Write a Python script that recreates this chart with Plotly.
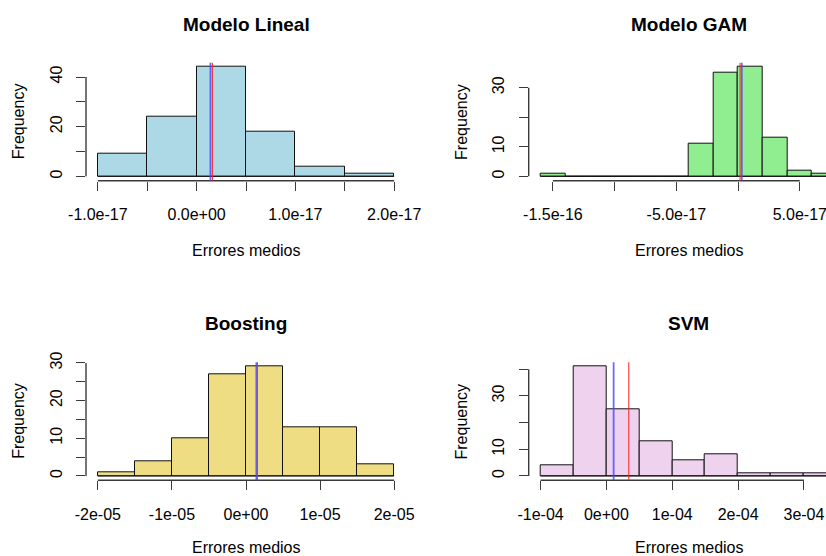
import plotly.graph_objects as go

# ---------------- data ----------------
titles = ["Modelo Lineal", "Modelo GAM", "Boosting", "SVM"]
fill_colors = ["#ADD8E6", "#90EE90", "#EEDD82", "#EED2EE"]

lineal_start, lineal_step = -1.0e-17, 0.5e-17
lineal_counts = [9, 24, 44, 18, 4, 1]
gam_start, gam_step = -1.6e-16, 2.0e-17
gam_counts = [1, 0, 0, 0, 0, 0, 11, 35, 37, 13, 2, 1]
boost_start, boost_step = -2.0e-5, 0.5e-5
boost_counts = [1, 4, 10, 27, 29, 13, 13, 3]
svm_start, svm_step = -1.0e-4, 0.5e-4
svm_counts = [4, 41, 25, 13, 6, 8, 1, 1, 1]

# vertical reference lines (blue, red)
blue_lines = [0.14e-17, 0.30e-17, 0.14e-5, 0.11e-4]
red_lines = [0.16e-17, 0.16e-17, 0.155e-5, 0.34e-4]

# axis ticks / labels
lineal_xticks = [-1.0e-17, -0.5e-17, 0.0, 0.5e-17, 1.0e-17, 1.5e-17, 2.0e-17]
lineal_xlabels = ["-1.0e-17", "", "0.0e+00", "", "1.0e-17", "", "2.0e-17"]
gam_xticks = [-1.5e-16, -1.0e-16, -5.0e-17, 0.0, 5.0e-17]
gam_xlabels = ["-1.5e-16", "", "-5.0e-17", "", "5.0e-17"]
boost_xticks = [-2e-5, -1e-5, 0.0, 1e-5, 2e-5]
boost_xlabels = ["-2e-05", "-1e-05", "0e+00", "1e-05", "2e-05"]
svm_xticks = [-1e-4, 0.0, 1e-4, 2e-4, 3e-4]
svm_xlabels = ["-1e-04", "0e+00", "1e-04", "2e-04", "3e-04"]

lineal_yticks = [0, 10, 20, 30, 40]
lineal_ylabels = ["0", "", "20", "", "40"]
gam_yticks = [0, 10, 20, 30]
gam_ylabels = ["0", "10", "", "30"]
boost_yticks = [0, 5, 10, 15, 20, 25, 30]
boost_ylabels = ["0", "", "10", "", "20", "", "30"]
svm_yticks = [0, 10, 20, 30, 40]
svm_ylabels = ["0", "10", "", "30", ""]

xlab = "Errores medios"
ylab = "Frequency"

panels = [
    (lineal_start, lineal_step, lineal_counts, lineal_xticks, lineal_xlabels, lineal_yticks, lineal_ylabels),
    (gam_start, gam_step, gam_counts, gam_xticks, gam_xlabels, gam_yticks, gam_ylabels),
    (boost_start, boost_step, boost_counts, boost_xticks, boost_xlabels, boost_yticks, boost_ylabels),
    (svm_start, svm_step, svm_counts, svm_xticks, svm_xlabels, svm_yticks, svm_ylabels),
]

# ---------------- layout geometry (pixels) ----------------
W, H = 826, 556
col_left = [86.0, 528.7]
plot_w = 320.0
row_top = [62.7, 362.3]
plot_h = 118.0

FONT = "Liberation Sans, Arial, sans-serif"
AXC = "#3a3a3a"
FS = 16

fig = go.Figure()
shapes = []
annotations = []

for i, (start, step, counts, xt, xl, yt, yl) in enumerate(panels):
    r, c = divmod(i, 2)
    n = len(counts)
    breaks = [start + k * step for k in range(n + 1)]
    centers = [start + (k + 0.5) * step for k in range(n)]
    xa = "x" if i == 0 else f"x{i+1}"
    ya = "y" if i == 0 else f"y{i+1}"
    xkey = "xaxis" if i == 0 else f"xaxis{i+1}"
    ykey = "yaxis" if i == 0 else f"yaxis{i+1}"

    # ranges like R (4% extension)
    x0, x1 = breaks[0], breaks[-1]
    ext = 0.04 * (x1 - x0)
    xr0, xr1 = x0 - ext, x1 + ext
    left = col_left[c]
    right_full = left + plot_w
    right_vis = min(right_full, W)
    xr1_vis = xr0 + (xr1 - xr0) * (right_vis - left) / plot_w
    ymax = max(counts)
    yr = [-0.04 * ymax, 1.04 * ymax]

    top = row_top[r]
    bot = top + plot_h

    fig.add_trace(go.Bar(
        x=centers, y=counts, width=[step] * n,
        marker=dict(color=fill_colors[i], line=dict(color="#111111", width=1)),
        xaxis=xa, yaxis=ya, showlegend=False, hoverinfo="skip",
    ))
    # baseline for empty bins (R draws zero-height rectangles as a line)
    fig.add_trace(go.Scatter(
        x=[breaks[0], breaks[-1]], y=[0, 0], mode="lines",
        line=dict(color="#111111", width=1),
        xaxis=xa, yaxis=ya, showlegend=False, hoverinfo="skip",
    ))

    fig.layout[xkey] = dict(
        domain=[left / W, right_vis / W], range=[xr0, xr1_vis], anchor=ya,
        automargin=False, ticklabeloverflow="allow",
        tickmode="array", tickvals=xt, ticktext=xl, ticks="outside",
        ticklen=9, tickwidth=1.4, tickcolor=AXC, showgrid=False, zeroline=False,
        showline=False, ticklabelstandoff=10,
        tickfont=dict(family=FONT, size=FS, color="black"),
    )
    fig.layout[ykey] = dict(
        domain=[1 - bot / H, 1 - top / H], range=yr, anchor=xa,
        automargin=False, ticklabeloverflow="allow",
        tickmode="array", tickvals=yt, ticktext=yl, ticks="outside",
        ticklen=9, tickwidth=1.4, tickcolor=AXC, showgrid=False, zeroline=False,
        showline=False, tickangle=-90, ticklabelstandoff=8,
        tickfont=dict(family=FONT, size=FS, color="black"),
    )

    # axis lines spanning first to last tick (R style)
    shapes.append(dict(type="line", xref=xa, yref=f"{ya} domain",
                       x0=xt[0], x1=xt[-1], y0=0, y1=0,
                       line=dict(color=AXC, width=1.4)))
    shapes.append(dict(type="line", xref=f"{xa} domain", yref=ya,
                       x0=0, x1=0, y0=yt[0], y1=yt[-1],
                       line=dict(color=AXC, width=1.4)))
    # reference lines
    shapes.append(dict(type="line", xref=xa, yref=f"{ya} domain",
                       x0=blue_lines[i], x1=blue_lines[i], y0=0, y1=1,
                       line=dict(color="rgba(70,70,255,0.8)", width=1.8)))
    shapes.append(dict(type="line", xref=xa, yref=f"{ya} domain",
                       x0=red_lines[i], x1=red_lines[i], y0=0, y1=1,
                       line=dict(color="rgba(255,30,30,0.9)", width=1.1)))

    cx = (left + plot_w / 2) / W
    annotations.append(dict(text=f"<b>{titles[i]}</b>", x=cx, y=1 - (top - 38.5) / H,
                            xref="paper", yref="paper", showarrow=False,
                            xanchor="center", yanchor="middle",
                            font=dict(family=FONT, size=19, color="black")))
    xl_y = min(top + 188, H - 9)
    annotations.append(dict(text=xlab, x=cx, y=1 - xl_y / H,
                            xref="paper", yref="paper", showarrow=False,
                            xanchor="center", yanchor="middle",
                            font=dict(family=FONT, size=FS, color="black")))
    annotations.append(dict(text=ylab, x=(left - 67.5) / W, y=1 - (top + plot_h / 2) / H,
                            xref="paper", yref="paper", showarrow=False, textangle=-90,
                            xanchor="center", yanchor="middle",
                            font=dict(family=FONT, size=FS, color="black")))

fig.update_layout(
    template="none",
    width=W, height=H, margin=dict(l=0, r=0, t=0, b=0, pad=0, autoexpand=False),
    paper_bgcolor="white", plot_bgcolor="white",
    bargap=0, shapes=shapes, annotations=annotations,
    font=dict(family=FONT, color="black"),
)

fig.write_html("out.html")
